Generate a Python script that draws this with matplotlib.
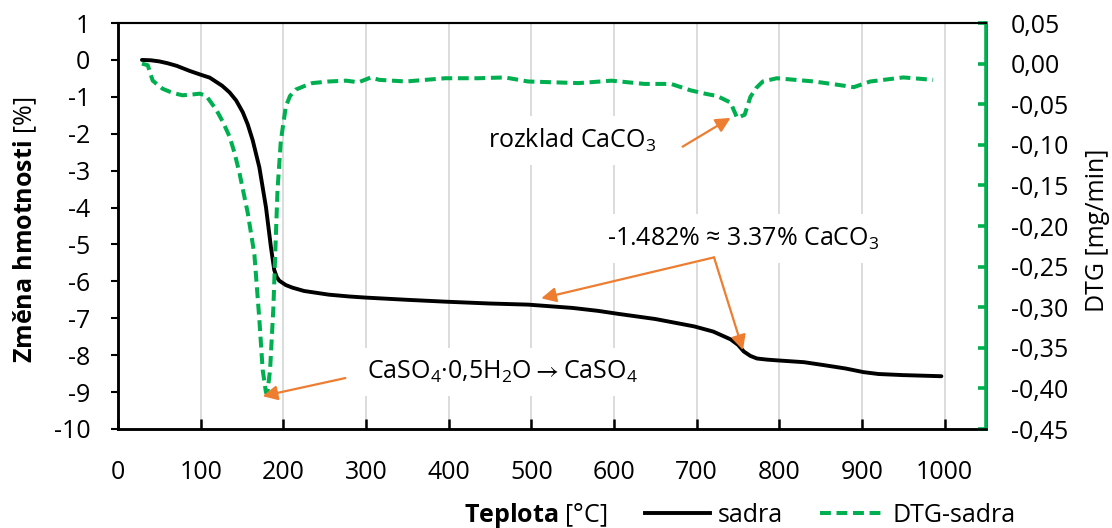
import matplotlib
matplotlib.use("Agg")
import matplotlib.pyplot as plt
from matplotlib.lines import Line2D

plt.rcParams["font.family"] = ["Open Sans", "DejaVu Sans"]
plt.rcParams["mathtext.fontset"] = "custom"
plt.rcParams["mathtext.rm"] = "Open Sans"
plt.rcParams["mathtext.it"] = "Open Sans:italic"
plt.rcParams["mathtext.bf"] = "Open Sans:bold"
plt.rcParams["mathtext.fallback"] = "stixsans"

# --- TG curve: mass change [%] vs temperature [°C]
tg_temp = [29, 40, 50, 60, 71, 87, 100, 111, 126, 135, 143, 151, 157, 163, 171,
           179, 185, 189, 192, 195, 203, 211, 225, 243, 255, 280, 300, 350, 396,
           450, 496, 550, 581, 605, 650, 697, 720, 741, 750, 757, 765, 773, 785,
           797, 830, 854, 880, 902, 920, 950, 996]
tg_mass = [0.0, -0.01, -0.04, -0.09, -0.16, -0.30, -0.40, -0.48, -0.70, -0.88,
           -1.10, -1.42, -1.75, -2.18, -2.91, -3.99, -5.07, -5.69, -5.88, -5.98,
           -6.10, -6.17, -6.26, -6.32, -6.36, -6.41, -6.44, -6.50, -6.55, -6.60,
           -6.63, -6.72, -6.80, -6.88, -7.02, -7.22, -7.36, -7.57, -7.72, -7.90,
           -8.02, -8.09, -8.12, -8.14, -8.19, -8.27, -8.36, -8.46, -8.51, -8.54,
           -8.57]

# --- DTG curve [mg/min] vs temperature [°C]
dtg_temp = [29, 36, 42, 54, 66, 78, 90, 99, 107, 119, 127, 135, 141, 147, 157,
            165, 171, 175, 179, 181, 184, 188, 190, 193, 197, 203, 208, 215, 227,
            235, 255, 276, 291, 306, 316, 348, 396, 436, 468, 496, 557, 597, 637,
            669, 693, 710, 725, 741, 749, 758, 765, 772, 780, 797, 842, 870, 890,
            910, 950, 986]
dtg_rate = [0.0, -0.002, -0.021, -0.031, -0.036, -0.039, -0.038, -0.037, -0.040,
            -0.057, -0.072, -0.090, -0.110, -0.135, -0.184, -0.235, -0.315,
            -0.377, -0.405, -0.403, -0.377, -0.300, -0.240, -0.155, -0.095,
            -0.053, -0.040, -0.032, -0.027, -0.024, -0.022, -0.021, -0.023,
            -0.017, -0.020, -0.022, -0.018, -0.018, -0.017, -0.022, -0.024,
            -0.021, -0.025, -0.025, -0.033, -0.037, -0.040, -0.048, -0.067,
            -0.063, -0.041, -0.030, -0.022, -0.018, -0.022, -0.026, -0.029,
            -0.022, -0.017, -0.020]

x_ticks = [0, 100, 200, 300, 400, 500, 600, 700, 800, 900, 1000]
left_ticks = [1, 0, -1, -2, -3, -4, -5, -6, -7, -8, -9, -10]
right_ticks = [0.05, 0.00, -0.05, -0.10, -0.15, -0.20, -0.25, -0.30, -0.35, -0.40, -0.45]

GREEN = "#00B050"
ORANGE = "#ED7D31"
FS = 18

fig = plt.figure(figsize=(11.12, 5.28), dpi=100)
ax = fig.add_axes([0.1061, 0.1875, 0.7806, 0.7689])
ax2 = ax.twinx()

ax.set_xlim(0, 1050)
ax.set_ylim(-10, 1)
ax2.set_ylim(-0.45, 0.05)

ax.set_xticks(x_ticks)
ax.set_xticklabels([str(t) for t in x_ticks])
ax.set_yticks(left_ticks)
ax.set_yticklabels([str(t) for t in left_ticks])
ax2.set_yticks(right_ticks)
ax2.set_yticklabels([f"{t:.2f}".replace(".", ",").replace("-0,00", "0,00") for t in right_ticks])

ax.grid(axis="x", color="#d9d9d9", lw=1.3)
ax.set_axisbelow(True)

for a in (ax, ax2):
    for s in a.spines.values():
        s.set_linewidth(1.8)
        s.set_color("black")
ax2.spines["right"].set_color(GREEN)
ax2.spines["right"].set_linewidth(2.6)
ax.spines["top"].set_linewidth(1.5)
ax2.spines["top"].set_linewidth(1.5)

ax.tick_params(axis="x", direction="in", length=7, width=1.8, labelsize=FS, pad=22)
ax.tick_params(axis="y", direction="out", length=5, width=1.5, labelsize=FS, pad=15)
ax2.tick_params(axis="y", direction="in", length=6, width=2.6, color=GREEN,
                labelsize=FS, pad=18)

ax.plot(tg_temp, tg_mass, color="black", lw=2.8, solid_capstyle="round", zorder=3)
ax2.plot(dtg_temp, dtg_rate, color=GREEN, lw=2.9, dashes=(2.7, 1.4), zorder=3)

# annotations (positions in TG axis data units)
box = dict(facecolor="white", edgecolor="none", pad=8)
arrow = dict(arrowstyle="-|>", color=ORANGE, lw=1.6, mutation_scale=22,
             shrinkA=0, shrinkB=0)

ax2.text(447, -2.19, "rozklad CaCO$_3$", transform=ax.transData, ha="left",
         va="center", fontsize=FS, bbox=box, zorder=5)
ax2.annotate("", xy=(741, -1.57), xytext=(683, -2.35), xycoords=ax.transData,
             textcoords=ax.transData, arrowprops=arrow, zorder=6)

ax2.text(592, -4.84, "-1.482% ≈ 3.37% CaCO$_3$", transform=ax.transData,
         ha="left", va="center", fontsize=FS, bbox=box, zorder=5)
ax2.annotate("", xy=(512, -6.46), xytext=(721, -5.35), xycoords=ax.transData,
             textcoords=ax.transData, arrowprops=arrow, zorder=6)
ax2.annotate("", xy=(756, -7.86), xytext=(721, -5.35), xycoords=ax.transData,
             textcoords=ax.transData, arrowprops=arrow, zorder=6)

ax2.text(301, -8.46, "CaSO$_4$·0,5H$_2$O$\\rightarrow$CaSO$_4$",
         transform=ax.transData, ha="left", va="center", fontsize=FS,
         bbox=box, zorder=5)
ax2.annotate("", xy=(175, -9.11), xytext=(275, -8.62), xycoords=ax.transData,
             textcoords=ax.transData, arrowprops=arrow, zorder=6)

# axis titles
fig.text(25 / 1112, 1 - 230 / 528, r"$\mathbf{Změna\ hmotnosti}$ [%]",
         rotation=90, ha="center", va="center", fontsize=FS)
fig.text(1097 / 1112, 1 - 230 / 528, "DTG [mg/min]", rotation=90,
         ha="center", va="center", fontsize=FS)
fig.text(607 / 1112, 1 - 515 / 528, r"$\mathbf{Teplota}$ [°C]",
         ha="right", va="center", fontsize=FS)

handles = [Line2D([], [], color="black", lw=2.8),
           Line2D([], [], color=GREEN, lw=2.9, dashes=(2.7, 1.4))]
fig.legend(handles, ["sadra", "DTG-sadra"], loc="center left",
           bbox_to_anchor=(645 / 1112, 1 - 515 / 528), ncol=2, frameon=False,
           fontsize=FS, handlelength=2.6, handletextpad=0.3, columnspacing=1.5,
           borderaxespad=0, borderpad=0)

fig.savefig("out.png", dpi=100)
